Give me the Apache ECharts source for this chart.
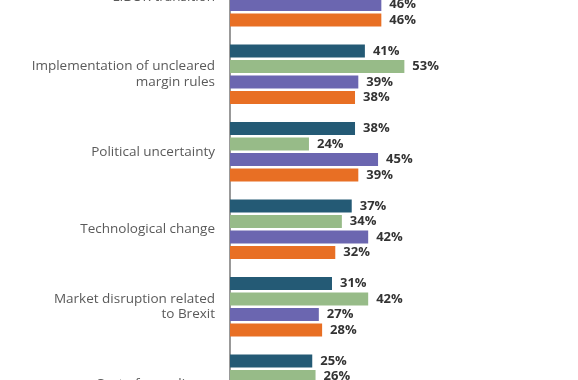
<!DOCTYPE html>
<html>
<head>
<meta charset="utf-8">
<script src="https://cdn.jsdelivr.net/npm/echarts@6/dist/echarts.min.js"></script>
<style>html,body{margin:0;padding:0;background:#fff;overflow:hidden;width:578px;height:380px;position:relative}#c{position:absolute;left:0;top:-42px;width:578px;height:465px}</style>
</head>
<body>
<div id="c"></div>
<script>
const categories = ['LIBOR transition', 'Implementation of uncleared\nmargin rules', 'Political uncertainty', 'Technological change', 'Market disruption related\nto Brexit', 'Cost of compliance'];
const series1 = [48, 41, 38, 37, 31, 25];
const series2 = [44, 53, 24, 34, 42, 26];
const series3 = [46, 39, 45, 42, 27, 24];
const series4 = [46, 38, 39, 32, 28, 22];
const colors = ['#245a75', '#97bb88', '#6b66b0', '#e86f24'];

const chart = echarts.init(document.getElementById('c'), null, {renderer: 'canvas'});
const mk = (data, i) => ({
  type: 'bar', data, barWidth: 13, barGap: '19%',
  itemStyle: {color: colors[i]},
  label: {show: true, position: 'right', distance: 8, formatter: '{c}%',
          fontFamily: 'Open Sans', fontWeight: 'bold', fontSize: 13, color: '#333'},
  silent: true, animation: false
});
chart.setOption({
  animation: false,
  grid: {left: 230, width: 329, top: 0, bottom: 0, containLabel: false},
  xAxis: {type: 'value', min: 0, max: 100, show: false},
  yAxis: {type: 'category', data: categories, inverse: true,
    axisLine: {show: true, lineStyle: {color: '#777', width: 1.5}},
    axisTick: {show: false},
    axisLabel: {margin: 15, fontFamily: 'Open Sans', fontSize: 13.5, color: '#5a5a5a', lineHeight: 15.5, align: 'right'}},
  series: [mk(series1, 0), mk(series2, 1), mk(series3, 2), mk(series4, 3)]
});
</script>
</body>
</html>
